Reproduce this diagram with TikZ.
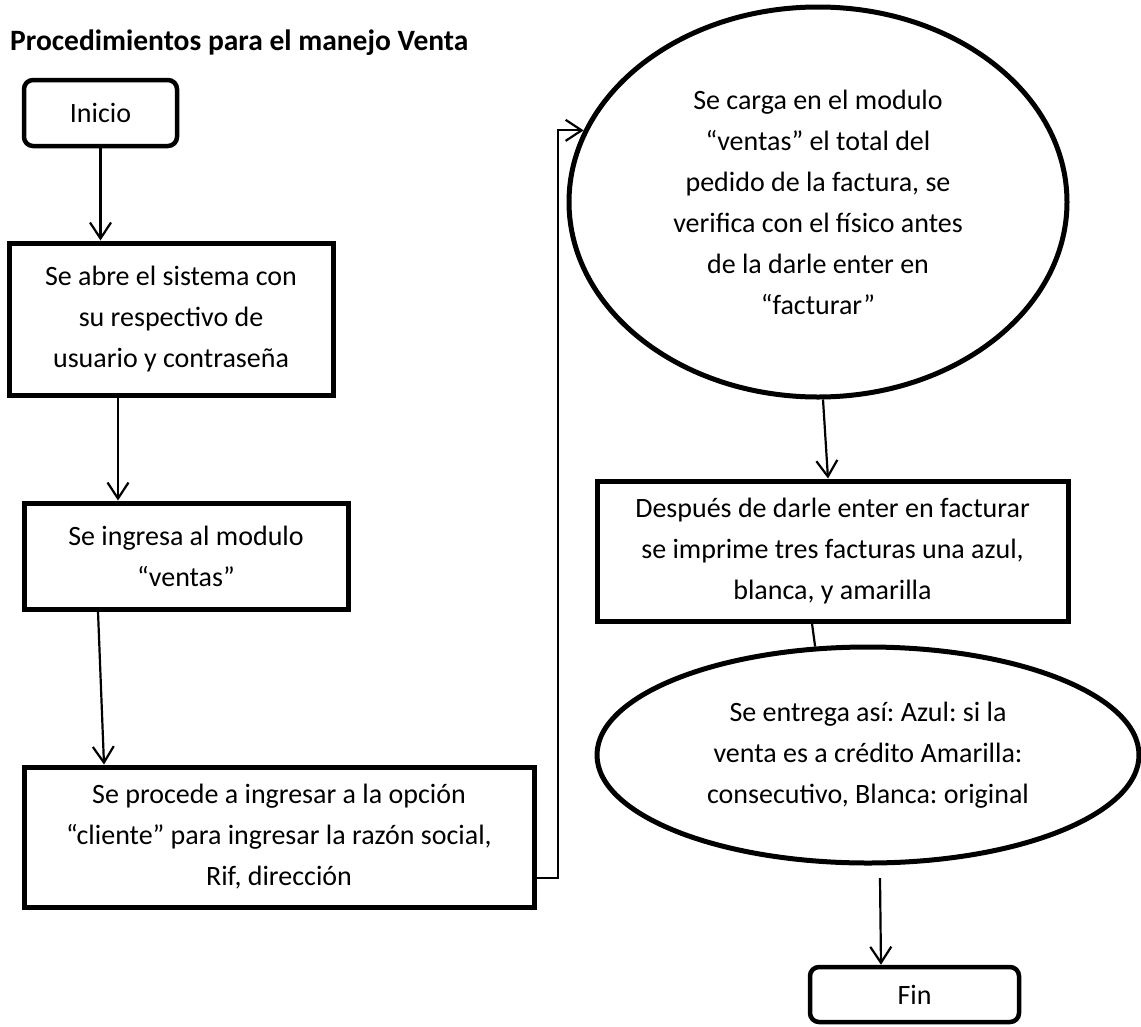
\documentclass[tikz,border=0pt]{standalone}
\usepackage{fontspec}
\setmainfont{Carlito}
\frenchspacing
\usetikzlibrary{arrows.meta,shapes.geometric}
\begin{document}
\begin{tikzpicture}[x=1pt,y=-1pt,
  box/.style={draw,line width=5pt,rectangle,inner sep=0pt,align=center,font=\fontsize{28}{41}\selectfont},
  rbox/.style={box,rounded corners=9pt,line width=4.5pt},
  ell/.style={draw,line width=5pt,ellipse,inner sep=0pt,align=center,font=\fontsize{28}{41}\selectfont},
  arr/.style={line width=2.2pt,-{Straight Barb[length=16pt,width=21pt,line width=2.2pt]}},
  ln/.style={line width=2.2pt}]
\useasboundingbox (0,0) rectangle (1141,1026);
\fill[white] (0,0) rectangle (1141,1026);
\node[anchor=base west,inner sep=0pt,font=\fontsize{29.5}{34}\selectfont\bfseries] (title) at (10,50) {Procedimientos para el manejo Venta};
\node[rbox,minimum width=153pt,minimum height=66pt] (ini) at (100.5,113) {Inicio};
\node[box,minimum width=324pt,minimum height=152pt] (b1) at (171,319) {Se abre el sistema con\\su respectivo de\\usuario y contraseña};
\node[box,minimum width=324pt,minimum height=106pt] (b2) at (186,556) {Se ingresa al modulo\\“ventas”};
\node[box,minimum width=510pt,minimum height=140pt] (b3) at (279,837) {Se procede a ingresar a la opción\\“cliente” para ingresar la razón social,\\Rif, dirección};
\node[ell,minimum width=498pt,minimum height=390pt] (e1) at (818,202) {Se carga en el modulo\\“ventas” el total del\\pedido de la factura, se\\verifica con el físico antes\\de la darle enter en\\“facturar”};
\node[box,minimum width=471pt,minimum height=140pt] (b5) at (832.5,551) {Después de darle enter en facturar\\se imprime tres facturas una azul,\\blanca, y amarilla};
\node[ell,minimum width=542pt,minimum height=216pt] (e2) at (868,755) {Se entrega así: Azul: si la\\venta es a crédito Amarilla:\\consecutivo, Blanca: original};
\node[rbox,minimum width=209pt,minimum height=55pt] (fin) at (914.5,994.5) {Fin};
\coordinate (c1) at (558,878);
\coordinate (c3) at (880,878);
\draw[arr] (ini.south) -- (ini.south |- b1.north);
\draw[arr] ([xshift=-53pt]b1.south) -- ([xshift=-68pt]b2.north);
\draw[arr] ([xshift=-88pt]b2.south) -- ([xshift=-175pt]b3.north);
\draw[arr] (b3.east |- c1) -- (c1) |- (e1.163.5);
\draw[arr] ([xshift=5pt]e1.south) -- ([xshift=-4.5pt]b5.north);
\draw[ln] ([xshift=-20.5pt]b5.south) -- (e2.116);
\draw[arr] (c3) -- ([xshift=-33.5pt]fin.north);
\end{tikzpicture}
\end{document}
